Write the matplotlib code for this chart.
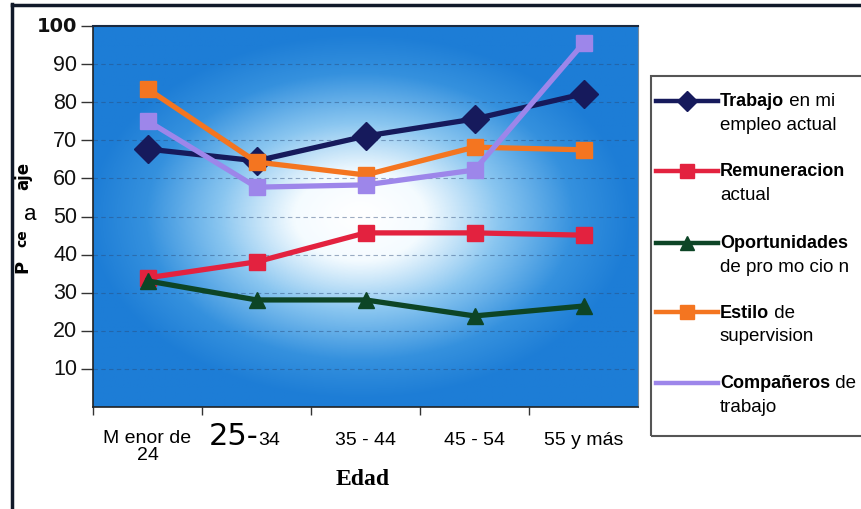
import numpy as np
import matplotlib.pyplot as plt
from matplotlib.lines import Line2D
from matplotlib.patches import Rectangle
from matplotlib.colors import LinearSegmentedColormap

# datos (porcentaje por grupo de edad)
edades = ["M enor de\n24", "25-34", "35 - 44", "45 - 54", "55 y más"]
trabajo = [67.7, 64.6, 71.1, 75.6, 82.2]
remuneracion = [33.9, 38.1, 45.7, 45.7, 45.1]
oportunidades = [33.1, 28.1, 28.1, 23.9, 26.5]
estilo = [83.5, 64.3, 60.9, 68.2, 67.5]
companeros = [75.1, 57.7, 58.3, 62.2, 95.5]
yticks = [10, 20, 30, 40, 50, 60, 70, 80, 90, 100]

# (valores, color, marcador, negrita, resto, segunda linea, marcador en leyenda)
series = [
    (trabajo, "#161a5c", "D", "Trabajo", " en mi", "empleo actual", True),
    (remuneracion, "#e3223f", "s", "Remuneracion", "", "actual", True),
    (oportunidades, "#0d4526", "^", "Oportunidades", "", "de pro mo cio n", True),
    (estilo, "#f47520", "s", "Estilo", " de", "supervision", True),
    (companeros, "#9d86ea", "s", "Compañeros", " de", "trabajo", False),
]

W, H = 861, 510
fig = plt.figure(figsize=(W / 100, H / 100), dpi=100)
fig.patch.set_facecolor("white")
ax = fig.add_axes([93 / W, 1 - 408 / H, 545 / W, 381 / H])

x = np.arange(len(edades))

# fondo degradado radial
gx, gy = np.meshgrid(np.linspace(0, 1, 500), np.linspace(0, 1, 400))
r = np.sqrt(((gx - 0.49) / 0.50) ** 2 + ((gy - 0.50) / 0.48) ** 2)
t = np.clip(r, 0, 1) ** 1.2
cmap = LinearSegmentedColormap.from_list(
    "fondo", [(0, "#ffffff"), (0.18, "#f4fbff"), (0.45, "#8ac6f0"),
              (0.75, "#3591de"), (1, "#1d7dd6")])
ax.imshow(t, cmap=cmap, vmin=0, vmax=1, extent=[-0.5, 4.5, 0, 100],
          aspect="auto", origin="lower", zorder=0, interpolation="bilinear")

for yv in yticks[:-1]:
    ax.axhline(yv, color="#2a4a78", lw=0.8, ls=(0, (4, 3)), alpha=0.45, zorder=1)

for vals, col, mk, b, rest, l2, _ in series:
    ax.plot(x, vals, color=col, lw=3.8, marker=mk, ms=12 if mk != "D" else 14,
            markeredgecolor=col, zorder=3)

ax.set_xlim(-0.5, 4.5)
ax.set_ylim(0, 100)
ax.set_yticks(yticks)
ax.set_yticklabels([])
ax.set_xticks(np.arange(0.5, 4.0, 1.0).tolist() + [-0.5])
ax.set_xticklabels([])
ax.tick_params(axis="y", direction="out", length=9, width=1, color="#333333")
ax.tick_params(axis="x", direction="out", length=6, width=1, color="#333333")
for s in ["left", "bottom"]:
    ax.spines[s].set_color("#222222")
    ax.spines[s].set_linewidth(1.2)
ax.spines["top"].set_color("#1a2a40")
ax.spines["top"].set_linewidth(1.5)
ax.spines["right"].set_color("#7a8a9a")

# etiquetas del eje y
ty = ax.get_yaxis_transform()
for yv in yticks:
    if yv == 100:
        ax.text(-0.029, yv, "100", ha="right", va="center", fontsize=14,
                fontweight="bold", family="DejaVu Sans Condensed",
                transform=ty, color="#111111")
    else:
        ax.text(-0.029, yv, str(yv), ha="right", va="center", fontsize=15.5,
                family="Liberation Sans", transform=ty, color="#111111")

# etiquetas del eje x
tx = ax.get_xaxis_transform()
fx = "Liberation Sans"
yb = -0.097
ax.text(0, -0.058, edades[0], ha="center", va="top", fontsize=14, family=fx,
        transform=tx, linespacing=1.0)
ax.text(1.02, yb, edades[1][:3], ha="right", va="baseline", fontsize=22,
        family="DejaVu Sans", transform=tx)
ax.text(1.02, yb, edades[1][3:], ha="left", va="baseline", fontsize=14,
        family=fx, transform=tx)
for i in range(2, 5):
    ax.text(i, yb, edades[i], ha="center", va="baseline", fontsize=14, family=fx,
            transform=tx)

fig.text(363 / W, 1 - 480 / H, "Edad", ha="center", va="center", fontsize=17,
         fontweight="bold", family="Liberation Serif")

# titulo del eje y (tal como aparece en la imagen)
fig.text(22 / W, 1 - 266 / H, "P", rotation=90, ha="center", va="center",
         fontsize=13, fontweight="bold")
fig.text(22 / W, 1 - 238 / H, "ce", rotation=90, ha="center", va="center",
         fontsize=10, fontweight="bold")
fig.text(30 / W, 1 - 214 / H, "a", ha="center", va="center", fontsize=16,
         family="Liberation Sans")
fig.text(23 / W, 1 - 176 / H, "aje", rotation=90, ha="center", va="center",
         fontsize=12, fontweight="bold")

# marco exterior
fig.add_artist(Line2D([12 / W, 12 / W], [0, 1 - 5 / H], color="#111a2a", lw=2.5,
                      transform=fig.transFigure))
fig.add_artist(Line2D([12 / W, 1], [1 - 6 / H, 1 - 6 / H], color="#111a2a", lw=2.5,
                      transform=fig.transFigure))

# leyenda
fig.add_artist(Rectangle((651 / W, 1 - 437 / H), 230 / W, 360 / H, fill=False,
                         edgecolor="#555555", lw=1.5, transform=fig.transFigure))
rows = [102, 172, 244, 313, 384]
fig.canvas.draw()
rend = fig.canvas.get_renderer()
for (vals, col, mk, b, rest, l2, showmk), ry in zip(series, rows):
    yf = 1 - ry / H
    fig.add_artist(Line2D([656 / W, 718 / W], [yf, yf], color=col, lw=3.2,
                          transform=fig.transFigure))
    if showmk:
        fig.add_artist(Line2D([687 / W], [yf], color=col, marker=mk,
                              ms=10, transform=fig.transFigure))
    tb = fig.text(720 / W, yf, b, ha="left", va="center", fontsize=13,
                  fontweight="bold", family="Liberation Sans")
    if rest:
        bb = tb.get_window_extent(rend)
        fig.text(bb.x1 / W, yf, rest, ha="left", va="center", fontsize=13.5,
                 family="Liberation Sans")
    fig.text(720 / W, 1 - (ry + 24) / H, l2, ha="left", va="center", fontsize=13.5,
             family="Liberation Sans")

fig.savefig("out.png", dpi=100)
